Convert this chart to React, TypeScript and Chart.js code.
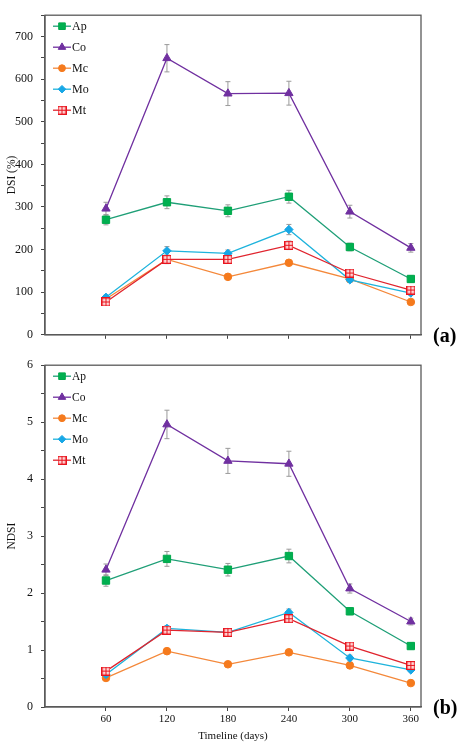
import React, { useEffect, useRef } from 'react';
import { Chart, registerables } from 'chart.js';
import { drawPoint } from 'chart.js/helpers';

Chart.register(...registerables);

// ---------- data ----------
const days = [60, 120, 180, 240, 300, 360];
const seriesNames = ['Ap', 'Co', 'Mc', 'Mo', 'Mt'];

// Panel (a) DSI (%)
const dsiAp = [270, 311, 291, 324, 206, 131];
const dsiCo = [296, 649, 566, 567, 289, 204];
const dsiMc = [84, 177, 136, 169, 131, 77];
const dsiMo = [88, 197, 191, 247, 129, 98];
const dsiMt = [77, 177, 177, 210, 145, 105];

const dsiApErr = [12, 15, 14, 15, 9, 8];
const dsiCoErr = [15, 32, 28, 28, 15, 10];
const dsiMcErr = [4, 5, 5, 5, 5, 4];
const dsiMoErr = [5, 10, 8, 12, 6, 5];
const dsiMtErr = [5, 10, 8, 10, 8, 5];

// Panel (b) NDSI
const ndsiAp = [2.22, 2.6, 2.41, 2.65, 1.68, 1.07];
const ndsiCo = [2.41, 4.96, 4.32, 4.27, 2.08, 1.5];
const ndsiMc = [0.51, 0.98, 0.75, 0.96, 0.73, 0.42];
const ndsiMo = [0.57, 1.38, 1.31, 1.66, 0.86, 0.65];
const ndsiMt = [0.63, 1.35, 1.31, 1.55, 1.07, 0.73];

const ndsiApErr = [0.1, 0.13, 0.11, 0.12, 0.06, 0.05];
const ndsiCoErr = [0.1, 0.25, 0.22, 0.22, 0.08, 0.06];
const ndsiMcErr = [0.03, 0.03, 0.03, 0.03, 0.03, 0.03];
const ndsiMoErr = [0.05, 0.05, 0.05, 0.06, 0.05, 0.03];
const ndsiMtErr = [0.05, 0.05, 0.05, 0.06, 0.04, 0.04];

const dsiTickLabels = [0, 100, 200, 300, 400, 500, 600, 700];
const ndsiTickLabels = [0, 1, 2, 3, 4, 5, 6];

// ---------- styles ----------
const FONT = "'Liberation Serif', 'Times New Roman', serif";
Chart.defaults.font.family = FONT;

const SERIES_STYLE = [
  { line: '#1f9f77', fill: '#00b050', border: '#00a84c', pointStyle: 'rect', radius: 5.2 },
  { line: '#7030a0', fill: '#7030a0', border: '#7030a0', pointStyle: 'triangle', radius: 4.8 },
  { line: '#f4883a', fill: '#f57a1d', border: '#f57a1d', pointStyle: 'circle', radius: 3.8 },
  { line: '#1eb3dc', fill: '#17a7e6', border: '#17a7e6', pointStyle: 'rectRot', radius: 4.2 },
  { line: '#e0242e', fill: '#ffd0d0', border: '#e8141e', pointStyle: 'mt', radius: 4.5 },
];

function makeMtMarker(): HTMLCanvasElement {
  const s = 9;
  const c = document.createElement('canvas');
  c.width = s;
  c.height = s;
  const g = c.getContext('2d')!;
  g.fillStyle = '#ffd6d6';
  g.fillRect(0, 0, s, s);
  g.strokeStyle = '#e8141e';
  g.lineWidth = 1.2;
  g.strokeRect(0.6, 0.6, s - 1.2, s - 1.2);
  g.lineWidth = 1;
  g.beginPath();
  g.moveTo(s / 2, 1);
  g.lineTo(s / 2, s - 1);
  g.moveTo(1, s / 2);
  g.lineTo(s - 1, s / 2);
  g.stroke();
  return c;
}

type PanelParams = {
  values: number[][];
  errors: number[][];
  yMax: number;
  yStep: number;
  yLabels: number[];
  yTitle: string;
  xTitle: string;
  showXLabels: boolean;
  padTop: number;
  xHeight: number;
  label: string;
  labelY: number;
  legendFont: number;
};

function makePanelPlugin(p: PanelParams, mt: HTMLCanvasElement) {
  return {
    id: 'panelDecor',
    beforeDatasetsDraw(chart: any) {
      const { ctx } = chart;
      const xs = chart.scales.x;
      const ys = chart.scales.y;
      ctx.save();
      ctx.strokeStyle = '#9a9a9a';
      ctx.lineWidth = 1;
      p.values.forEach((vals, i) => {
        vals.forEach((v, k) => {
          const e = p.errors[i][k];
          const x = xs.getPixelForValue(days[k]);
          const y1 = ys.getPixelForValue(v + e);
          const y2 = ys.getPixelForValue(v - e);
          ctx.beginPath();
          ctx.moveTo(x, y1);
          ctx.lineTo(x, y2);
          ctx.moveTo(x - 2.5, y1);
          ctx.lineTo(x + 2.5, y1);
          ctx.moveTo(x - 2.5, y2);
          ctx.lineTo(x + 2.5, y2);
          ctx.stroke();
        });
      });
      ctx.restore();
    },
    afterDraw(chart: any) {
      const { ctx, chartArea } = chart;
      const { left, top, right, bottom } = chartArea;
      ctx.save();
      // frame
      ctx.strokeStyle = '#5a5a5a';
      ctx.lineWidth = 1.3;
      ctx.strokeRect(left, top, right - left, bottom - top);
      // legend
      ctx.font = `${p.legendFont}px ${FONT}`;
      ctx.textBaseline = 'middle';
      ctx.textAlign = 'left';
      seriesNames.forEach((name, i) => {
        const st = SERIES_STYLE[i];
        const y = top + 11 + i * 21;
        const x0 = left + 8;
        const x1 = left + 26;
        ctx.strokeStyle = st.line;
        ctx.lineWidth = 1.3;
        ctx.beginPath();
        ctx.moveTo(x0, y);
        ctx.lineTo(x1, y);
        ctx.stroke();
        ctx.fillStyle = st.fill;
        ctx.strokeStyle = st.border;
        ctx.lineWidth = 1;
        drawPoint(
          ctx,
          {
            pointStyle: st.pointStyle === 'mt' ? mt : st.pointStyle,
            radius: st.radius * 0.9,
            rotation: 0,
            borderWidth: 1,
          } as any,
          (x0 + x1) / 2,
          y
        );
        ctx.fillStyle = '#111';
        ctx.fillText(name, x1 + 1, y + 0.5);
      });
      // panel label
      ctx.font = `bold 20px ${FONT}`;
      ctx.fillStyle = '#000';
      ctx.textBaseline = 'middle';
      ctx.fillText(p.label, 433, p.labelY);
      ctx.restore();
    },
  };
}

function buildChart(canvas: HTMLCanvasElement, p: PanelParams) {
  const mt = makeMtMarker();
  const datasets = p.values.map((vals, i) => {
    const st = SERIES_STYLE[i];
    return {
      label: seriesNames[i],
      data: days.map((d, k) => ({ x: d, y: vals[k] })),
      borderColor: st.line,
      borderWidth: 1.3,
      pointStyle: st.pointStyle === 'mt' ? mt : st.pointStyle,
      pointRadius: st.radius,
      pointBackgroundColor: st.fill,
      pointBorderColor: st.border,
      pointBorderWidth: 1,
      tension: 0,
      fill: false,
      order: seriesNames.length - i,
    };
  });

  return new Chart(canvas, {
    type: 'line',
    data: { datasets } as any,
    options: {
      responsive: false,
      animation: false,
      events: [],
      layout: { padding: { top: p.padTop, right: 40, left: 0, bottom: 0 } },
      plugins: { legend: { display: false }, tooltip: { enabled: false } },
      scales: {
        x: {
          type: 'linear',
          min: 0,
          max: 370,
          afterBuildTicks: (s: any) => {
            s.ticks = days.map((v) => ({ value: v }));
          },
          afterFit: (s: any) => {
            s.height = p.xHeight;
          },
          ticks: {
            callback: (v: any) => (p.showXLabels ? String(v) : ''),
            font: { size: 11 },
            color: '#111',
            padding: 2,
            maxRotation: 0,
            autoSkip: false,
          },
          grid: { drawOnChartArea: false, drawTicks: true, tickLength: 4, tickColor: '#444', tickWidth: 1 },
          border: { display: true, color: '#5a5a5a', width: 1.3 },
          title: {
            display: !!p.xTitle,
            text: p.xTitle,
            font: { size: 11 },
            color: '#111',
            padding: { top: 0, bottom: 1 },
          },
        },
        y: {
          type: 'linear',
          min: 0,
          max: p.yMax,
          afterFit: (s: any) => {
            s.width = 45;
          },
          ticks: {
            stepSize: p.yStep,
            autoSkip: false,
            callback: (v: any) => (p.yLabels.some((l) => Math.abs(l - v) < 1e-6) ? String(v) : ''),
            font: { size: 12 },
            color: '#111',
            padding: 8,
          },
          grid: { drawOnChartArea: false, drawTicks: true, tickLength: 4, tickColor: '#444', tickWidth: 1 },
          border: { display: true, color: '#5a5a5a', width: 1.3 },
          title: {
            display: true,
            text: p.yTitle,
            font: { size: 11.5 },
            color: '#111',
            padding: { top: 5, bottom: 0 },
          },
        },
      },
    } as any,
    plugins: [makePanelPlugin(p, mt)],
  });
}

export default function App() {
  const refA = useRef<HTMLCanvasElement>(null);
  const refB = useRef<HTMLCanvasElement>(null);

  useEffect(() => {
    const a = buildChart(refA.current!, {
      values: [dsiAp, dsiCo, dsiMc, dsiMo, dsiMt],
      errors: [dsiApErr, dsiCoErr, dsiMcErr, dsiMoErr, dsiMtErr],
      yMax: 750,
      yStep: 50,
      yLabels: dsiTickLabels,
      yTitle: 'DSI (%)',
      xTitle: '',
      showXLabels: false,
      padTop: 4,
      xHeight: 4,
      label: '(a)',
      labelY: 337,
      legendFont: 12,
    });
    const b = buildChart(refB.current!, {
      values: [ndsiAp, ndsiCo, ndsiMc, ndsiMo, ndsiMt],
      errors: [ndsiApErr, ndsiCoErr, ndsiMcErr, ndsiMoErr, ndsiMtErr],
      yMax: 6,
      yStep: 0.5,
      yLabels: ndsiTickLabels,
      yTitle: 'NDSI',
      xTitle: 'Timeline (days)',
      showXLabels: true,
      padTop: 14,
      xHeight: 37,
      label: '(b)',
      labelY: 359,
      legendFont: 11.5,
    });
    return () => {
      a.destroy();
      b.destroy();
    };
  }, []);

  return (
    <div style={{ position: 'absolute', left: 0, top: 0, width: 461, height: 744, background: '#fff' }}>
      <canvas ref={refA} width={461} height={350} style={{ display: 'block' }} />
      <canvas ref={refB} width={461} height={394} style={{ display: 'block' }} />
    </div>
  );
}
